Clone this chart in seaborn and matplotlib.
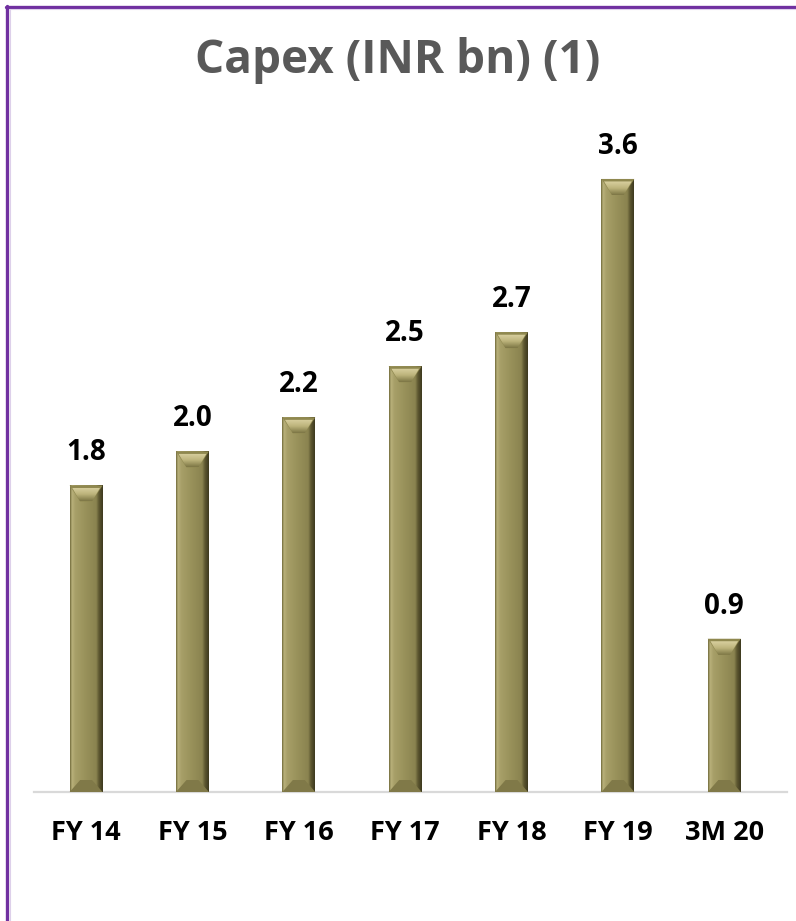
import numpy as np
import pandas as pd
import matplotlib
matplotlib.use("Agg")
import matplotlib.pyplot as plt
from matplotlib.colors import LinearSegmentedColormap
from matplotlib.patches import Polygon
from matplotlib.lines import Line2D
import seaborn as sns

# Capex by fiscal period, INR billion
periods = ["FY 14", "FY 15", "FY 16", "FY 17", "FY 18", "FY 19", "3M 20"]
capex = [1.8, 2.0, 2.2, 2.5, 2.7, 3.6, 0.9]
value_labels = ["1.8", "2.0", "2.2", "2.5", "2.7", "3.6", "0.9"]
title_text = "Capex (INR bn) (1)"

sns.set_theme(style="white")
plt.rcParams["font.family"] = ["Open Sans", "DejaVu Sans"]

W, H = 796, 921
fig = plt.figure(figsize=(W / 100, H / 100), dpi=100)
fig.patch.set_facecolor("white")

ax_left, ax_right = 34 / W, 787 / W
ax_bottom, ax_top = (H - 792) / H, (H - 150) / H
ax = fig.add_axes([ax_left, ax_bottom, ax_right - ax_left, ax_top - ax_bottom])

df = pd.DataFrame({"period": periods, "capex": capex})
sns.barplot(data=df, x="period", y="capex", color="#958e58", width=0.31,
            saturation=1, ax=ax, zorder=2)

ax.set_xlim(-0.49, 6.59)
ax.set_ylim(0, 3.77)
ax.set_facecolor("white")
for s in ["top", "right", "left"]:
    ax.spines[s].set_visible(False)
ax.spines["bottom"].set_color("#d9d9d9")
ax.spines["bottom"].set_linewidth(1.6)
ax.spines["bottom"].set_zorder(1)
ax.set_yticks([])
ax.set_xlabel("")
ax.set_ylabel("")
ax.tick_params(axis="x", length=0, pad=20.5)
for lab in ax.get_xticklabels():
    lab.set_fontsize(19.5)
    lab.set_fontweight("bold")
    lab.set_color("black")

# Bevelled shading for each bar
fig.canvas.draw()
bbox = ax.get_window_extent()
px_per_y = bbox.height / (ax.get_ylim()[1] - ax.get_ylim()[0])

face_cmap = LinearSegmentedColormap.from_list(
    "bar_face",
    [(0.00, "#716b3b"), (0.06, "#b9b17b"), (0.16, "#a79f68"),
     (0.50, "#979059"), (0.80, "#8a8350"), (0.88, "#5e5831"),
     (1.00, "#3d391f")])
grad = np.linspace(0, 1, 200)[None, :]

top_cmap = LinearSegmentedColormap.from_list(
    "bar_top", ["#7d7645", "#bdb47c", "#d9d0a0"])
vgrad = np.linspace(0, 1, 50)[:, None]

bars = list(ax.patches)
for p in bars:
    x0, w, h = p.get_x(), p.get_width(), p.get_height()
    x1 = x0 + w
    p.set_edgecolor("none")
    im = ax.imshow(grad, cmap=face_cmap, aspect="auto",
                   extent=[x0, x1, 0, h], zorder=3, interpolation="bilinear")
    im.set_clip_path(p)
    bw = w * 0.32
    bh = 16 / px_per_y
    # upper bevel: darker frame with a lit face pointing down
    frame = Polygon([(x0, h), (x1, h), (x1 - bw, h - bh), (x0 + bw, h - bh)],
                    closed=True, facecolor="#8f884f", edgecolor="none", zorder=4)
    ax.add_patch(frame)
    inset = 2.5 / px_per_y
    face = Polygon([(x0 + w * 0.08, h - inset), (x1 - w * 0.08, h - inset),
                    (x1 - bw, h - bh), (x0 + bw, h - bh)],
                   closed=True, facecolor="none", edgecolor="none", zorder=5)
    ax.add_patch(face)
    tim = ax.imshow(vgrad, cmap=top_cmap, aspect="auto", origin="lower",
                    extent=[x0, x1, h - bh, h - inset], zorder=5,
                    interpolation="bilinear")
    tim.set_clip_path(face)
    bottom = Polygon([(x0, 0), (x1, 0), (x1 - bw, bh * 0.75), (x0 + bw, bh * 0.75)],
                     closed=True, facecolor="#807948", edgecolor="none", zorder=4)
    ax.add_patch(bottom)

for p, txt in zip(bars, value_labels):
    ax.annotate(txt, (p.get_x() + p.get_width() / 2, p.get_height()),
                xytext=(0, 13), textcoords="offset points",
                ha="center", va="bottom", fontsize=20, fontweight="bold",
                color="black", zorder=6)

fig.text(398 / W, 1 - 60 / H, title_text,
         ha="center", va="center", fontsize=33, fontweight="bold",
         color="#595959")

# Purple frame along the top and left edges
fig.add_artist(Line2D([6 / W, 1], [1 - 7 / H, 1 - 7 / H], color="#7030a0",
                      linewidth=2.4, transform=fig.transFigure))
fig.add_artist(Line2D([7 / W, 7 / W], [0, 1 - 6 / H], color="#7030a0",
                      linewidth=2.4, transform=fig.transFigure))
fig.add_artist(Line2D([9 / W, 1], [1 - 9.5 / H, 1 - 9.5 / H], color="#ddd0ea",
                      linewidth=0.8, transform=fig.transFigure))
fig.add_artist(Line2D([9.5 / W, 9.5 / W], [0, 1 - 9 / H], color="#ddd0ea",
                      linewidth=0.8, transform=fig.transFigure))

fig.savefig("out.png", dpi=100, facecolor="white")
